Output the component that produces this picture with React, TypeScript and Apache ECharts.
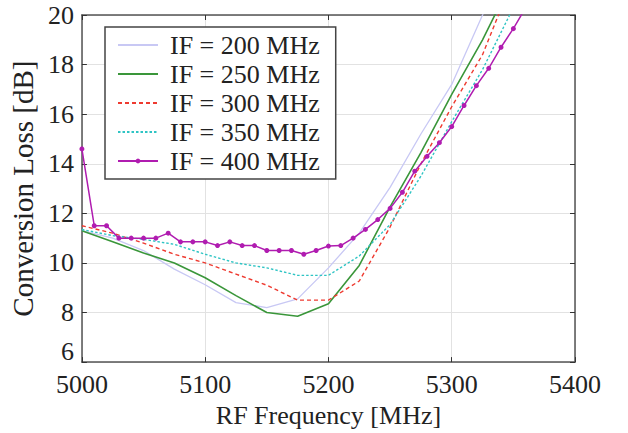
import React, { useEffect, useRef } from "react";
import * as echarts from "echarts";

const freq25 = [5000, 5025, 5050, 5075, 5100, 5125, 5150, 5175, 5200, 5225, 5250, 5275, 5300, 5325, 5350];
const if200 = [11.3, 11.0, 10.5, 9.75, 9.12, 8.4, 8.2, 8.55, 9.8, 11.2, 13.05, 15.2, 17.2, 20.0, 22.5];
const if250 = [11.3, 10.85, 10.4, 10.0, 9.4, 8.68, 8.0, 7.85, 8.35, 9.9, 12.26, 14.45, 16.8, 19.0, 21.5];
const if300 = [11.5, 11.2, 10.8, 10.35, 10.0, 9.55, 9.1, 8.5, 8.5, 9.27, 11.45, 14.0, 16.3, 18.4, 21.5];
const if350 = [11.35, 11.1, 10.95, 10.75, 10.35, 10.0, 9.8, 9.5, 9.5, 10.28, 11.55, 13.5, 15.7, 17.8, 20.3];

const freq10 = [
  5000, 5010, 5020, 5030, 5040, 5050, 5060, 5070, 5080, 5090, 5100, 5110, 5120, 5130, 5140, 5150, 5160, 5170,
  5180, 5190, 5200, 5210, 5220, 5230, 5240, 5250, 5260, 5270, 5280, 5290, 5300, 5310, 5320, 5330, 5340, 5350, 5360,
];
const if400 = [
  14.6, 11.5, 11.5, 11.0, 11.0, 11.0, 11.0, 11.2, 10.85, 10.85, 10.85, 10.7, 10.85, 10.7, 10.7, 10.5, 10.5, 10.5,
  10.35, 10.5, 10.68, 10.7, 11.0, 11.35, 11.75, 12.2, 12.85, 13.7, 14.3, 14.85, 15.5, 16.35, 17.15, 17.85, 18.7, 19.45, 20.3,
];

const seriesNames = ["IF = 200 MHz", "IF = 250 MHz", "IF = 300 MHz", "IF = 350 MHz", "IF = 400 MHz"];
const xTicks = { min: 5000, max: 5400, interval: 100 };
const yTicks = { min: 6, max: 20, interval: 2 };

const pair = (xs: number[], ys: number[]) => xs.map((x, i) => [x, ys[i]]);

export default function App() {
  const ref = useRef<HTMLDivElement>(null);
  useEffect(() => {
    if (!ref.current) return;
    const chart = echarts.init(ref.current, undefined, { renderer: "svg" });
    const font = "'Liberation Serif', 'Times New Roman', serif";
    const frame = "#555";
    const baseX = {
      type: "value" as const,
      ...xTicks,
      axisLine: { show: true, lineStyle: { color: frame, width: 1.5 } },
      axisTick: { show: true, inside: true, length: 5, lineStyle: { color: "#333" } },
    };
    const baseY = {
      type: "value" as const,
      ...yTicks,
      axisLine: { show: true, lineStyle: { color: frame, width: 1.5 } },
      axisTick: { show: true, inside: true, length: 5, lineStyle: { color: "#333" } },
    };
    const legendData = seriesNames.map((n, i) =>
      i < 4 ? { name: n, itemStyle: { opacity: 0 } } : { name: n }
    );
    chart.setOption({
      animation: false,
      backgroundColor: "#fff",
      textStyle: { fontFamily: font, color: "#222" },
      grid: { left: 79, right: 53, top: 15, bottom: 70 },
      legend: {
        orient: "vertical",
        left: 105,
        top: 27,
        padding: [5, 16, 5, 12],
        itemGap: 3,
        itemWidth: 40,
        itemHeight: 6,
        backgroundColor: "#fff",
        borderColor: "#444",
        borderWidth: 1.5,
        textStyle: { fontFamily: font, fontSize: 26, color: "#222", padding: [0, 0, 0, 7] },
        data: legendData,
      },
      xAxis: [
        {
          ...baseX,
          position: "bottom",
          name: "RF Frequency [MHz]",
          nameLocation: "middle",
          nameGap: 34,
          nameTextStyle: { fontFamily: font, fontSize: 26, color: "#222" },
          axisLabel: {
            fontFamily: font,
            fontSize: 26,
            color: "#222",
            margin: 9,
            formatter: (v: number) => String(v),
          },
          splitLine: { show: true, lineStyle: { color: "#e2e2e2", width: 1 } },
        },
        {
          ...baseX,
          position: "top",
          axisLabel: { show: false },
          splitLine: { show: false },
        },
      ],
      yAxis: [
        {
          ...baseY,
          position: "left",
          name: "Conversion Loss [dB]",
          nameLocation: "middle",
          nameGap: 32,
          nameTextStyle: { fontFamily: font, fontSize: 29, color: "#222" },
          axisLabel: {
            fontFamily: font,
            fontSize: 26,
            color: "#222",
            margin: 8,
            formatter: (v: number) => (v === 6 ? "{lo|6}" : String(v)),
            rich: { lo: { fontFamily: font, fontSize: 26, color: "#222", padding: [0, 0, 22, 0] } },
          },
          splitLine: { show: true, lineStyle: { color: "#e2e2e2", width: 1 } },
        },
        {
          ...baseY,
          position: "right",
          axisLabel: { show: false },
          splitLine: { show: false },
        },
      ],
      series: [
        {
          name: seriesNames[0],
          type: "line",
          symbol: "none",
          data: pair(freq25, if200),
          lineStyle: { color: "#c8c8f4", width: 1.3 },
          itemStyle: { color: "#c8c8f4" },
        },
        {
          name: seriesNames[1],
          type: "line",
          symbol: "none",
          data: pair(freq25, if250),
          lineStyle: { color: "#3a963a", width: 1.6 },
          itemStyle: { color: "#3a963a" },
        },
        {
          name: seriesNames[2],
          type: "line",
          symbol: "none",
          data: pair(freq25, if300),
          lineStyle: { color: "#ee3a30", width: 1.4, type: [4, 3] },
          itemStyle: { color: "#ee3a30" },
        },
        {
          name: seriesNames[3],
          type: "line",
          symbol: "none",
          data: pair(freq25, if350),
          lineStyle: { color: "#2ec4c4", width: 1.4, type: [2.5, 2] },
          itemStyle: { color: "#2ec4c4" },
        },
        {
          name: seriesNames[4],
          type: "line",
          symbol: "circle",
          symbolSize: 5,
          data: pair(freq10, if400),
          lineStyle: { color: "#b01cb0", width: 1.5 },
          itemStyle: { color: "#b01cb0" },
        },
      ],
    });
    return () => chart.dispose();
  }, []);
  return (
    <div
      ref={ref}
      style={{ position: "absolute", left: 0, top: 0, width: 628, height: 433, background: "#fff" }}
    />
  );
}
